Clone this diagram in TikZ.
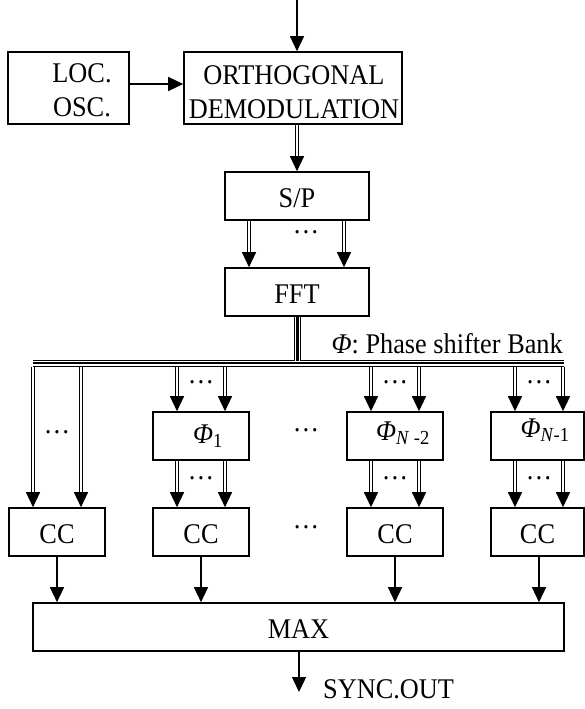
\documentclass[tikz,border=0pt]{standalone}
\usepackage{fontspec}
\setmainfont{Liberation Serif}[FakeStretch=0.923]
\usetikzlibrary{arrows.meta}

\begin{document}
\begin{tikzpicture}[x=1pt,y=-1pt,
  font=\fontsize{28.5}{34}\selectfont,
  box/.style={draw, line width=1.6pt, inner sep=0pt, minimum height=48pt,
    text height=22.5pt, text depth=0pt},
  tip/.style={-{Triangle[length=15pt,width=14pt]}},
  sarrow/.style={tip, line width=1.4pt},
  darrow/.style={tip, line width=1.3pt, double, double distance=1.3pt},
  bus/.style={line width=1.2pt, double, double distance=1.2pt},
  lbl/.style={inner sep=0pt},
  dotsnode/.style={inner sep=0pt}]

\useasboundingbox (0,0) rectangle (585,709);

% front end
\node[box, minimum width=121pt, minimum height=72pt] (loc) at (68.5,88) {};
\node[lbl, align=center] (loctxt) at (82,90) {LOC.\\OSC.};
\node[box, minimum width=218pt, minimum height=72pt] (orth) at (293,88) {};
\node[lbl, align=center] (orthtxt) at (294,92) {ORTHOGONAL\\DEMODULATION};
\node[box, minimum width=144pt] (sp) at (297,196) {S/P};
\node[box, minimum width=144pt] (fft) at (297,292) {FFT};

% phase shifter bank
\node[box, minimum width=96pt] (phi1) at (201,436) {};
\node[box, minimum width=96pt] (phi2) at (395,436) {};
\node[box, minimum width=93pt] (phi3) at (537.5,436) {};
\node[lbl] (phi1txt) at (208,436) {\textit{Φ}\textsubscript{1}};
\node[lbl] (phi2txt) at (403,433) {\textit{Φ}\textsubscript{\textit{N} -2}};
\node[lbl] (phi3txt) at (545,430) {\textit{Φ}\textsubscript{\textit{N}-1}};

% correlators and decision
\node[box, minimum width=96pt] (cc1) at (57,532) {CC};
\node[box, minimum width=96pt] (cc2) at (201,532) {CC};
\node[box, minimum width=96pt] (cc3) at (395,532) {CC};
\node[box, minimum width=93pt] (cc4) at (537.5,532) {CC};
\node[box, minimum width=531pt] (max) at (298.5,627) {MAX};

% input / output
\coordinate (in) at (297,0);
\coordinate (out) at (299,692);
\node[lbl, anchor=base west] (sync) at (323,698) {SYNC.OUT};
\node[lbl, anchor=base east] (banktxt) at (563,353.5) {\textit{Φ}: Phase shifter Bank};

\draw[sarrow] (in) -- (in |- orth.north);
\draw[sarrow] ([yshift=4pt]loc.east) -- ([yshift=4pt]loc.east -| orth.west);
\draw[darrow] (orth.south -| sp.north) -- (sp.north);
\draw[darrow] ([xshift=-48pt]sp.south) -- ([xshift=-48pt]fft.north);
\draw[darrow] ([xshift=47pt]sp.south) -- ([xshift=47pt]fft.north);
\node[dotsnode] (d0) at (306,232) {…};

% bus
\coordinate (busL) at (33,361.4);
\coordinate (busR) at (564,361.4);
\coordinate (busB) at (0,366.5);
\draw[bus] (busL) -- (busR);
\draw[bus] ([yshift=-3.6pt]busL) -- ([yshift=-3.6pt]busR);
\draw[bus] ([xshift=-1.2pt]fft.south) -- ([xshift=-1.2pt]fft.south |- busL);
\draw[bus] ([xshift=2.4pt]fft.south) -- ([xshift=2.4pt]fft.south |- busL);

% direct branch
\draw[darrow] ([xshift=-24pt]cc1.north |- busB) -- ([xshift=-24pt]cc1.north);
\draw[darrow] ([xshift=24pt]cc1.north |- busB) -- ([xshift=24pt]cc1.north);
\node[dotsnode] (d1) at (57,432) {…};

% shifted branches
\foreach \p/\c in {phi1/cc2, phi2/cc3} {
  \draw[darrow] ([xshift=-24pt]\p.north |- busB) -- ([xshift=-24pt]\p.north);
  \draw[darrow] ([xshift=24pt]\p.north |- busB) -- ([xshift=24pt]\p.north);
  \draw[darrow] ([xshift=-24pt]\p.south) -- ([xshift=-24pt]\c.north);
  \draw[darrow] ([xshift=24pt]\p.south) -- ([xshift=24pt]\c.north);
}
\draw[darrow] ([xshift=-22.5pt]phi3.north |- busB) -- ([xshift=-22.5pt]phi3.north);
\draw[darrow] ([xshift=25.5pt]phi3.north |- busB) -- ([xshift=25.5pt]phi3.north);
\draw[darrow] ([xshift=-22.5pt]phi3.south) -- ([xshift=-22.5pt]cc4.north);
\draw[darrow] ([xshift=25.5pt]phi3.south) -- ([xshift=25.5pt]cc4.north);

\node[dotsnode] (d2) at (201,382) {…};
\node[dotsnode] (d3) at (201,478) {…};
\node[dotsnode] (d4) at (395,382) {…};
\node[dotsnode] (d5) at (395,478) {…};
\node[dotsnode] (d6) at (539,382) {…};
\node[dotsnode] (d7) at (539,478) {…};
\node[dotsnode] (d8) at (306,430) {…};
\node[dotsnode] (d9) at (306,527) {…};

% to the maximum selector
\draw[sarrow] (cc1.south) -- (cc1.south |- max.north);
\draw[sarrow] (cc2.south) -- (cc2.south |- max.north);
\draw[sarrow] (cc3.south) -- (cc3.south |- max.north);
\draw[sarrow] ([xshift=1.5pt]cc4.south) -- ([xshift=1.5pt]cc4.south |- max.north);
\draw[sarrow] (max.south -| out) -- (out);
\end{tikzpicture}
\end{document}
